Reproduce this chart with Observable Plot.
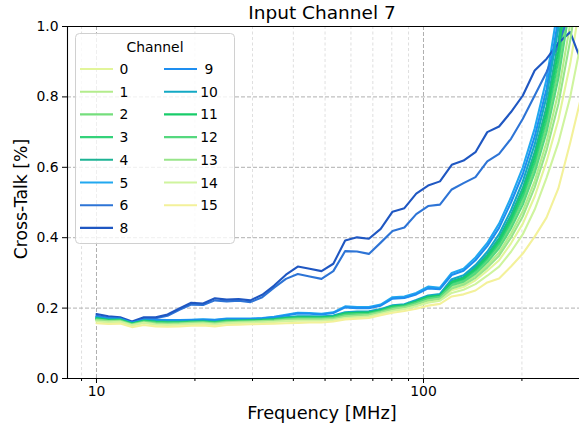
<!DOCTYPE html>
<html><head><meta charset="utf-8">
<script src="https://cdn.jsdelivr.net/npm/d3@7"></script>
<script src="https://cdn.jsdelivr.net/npm/@observablehq/plot@0.6"></script>
<style>body{margin:0;background:#fff}</style>
</head><body><div id="chart"></div>
<script>
// Frequencies [MHz]
const freqs = [10.00, 10.87, 11.81, 12.84, 13.96, 15.17, 16.49, 17.93, 19.48, 21.18, 23.02, 25.02, 27.20, 29.56, 32.14, 34.93, 37.97, 41.27, 44.86, 48.76, 53.00, 57.61, 62.62, 68.07, 73.99, 80.42, 87.42, 95.02, 103.3, 112.3, 122.0, 132.6, 144.2, 156.7, 170.3, 185.2, 201.3, 218.8, 237.8, 258.5, 281.0, 305.4];

const channels = ["0","1","2","3","4","5","6","8","9","10","11","12","13","14","15"];
const colors = ["#e2f59a","#b3ec8c","#74de7c","#34d27a","#1db394","#21a8f0","#2d74d6","#1f57c2","#1e8ef0","#13a9c4","#18cc6a","#55d87e","#98e58a","#cff49e","#f3f19a"];

// Cross-talk [%] per channel
const ch0 = [0.164,0.162,0.162,0.152,0.159,0.155,0.154,0.155,0.157,0.158,0.155,0.159,0.160,0.160,0.162,0.163,0.165,0.167,0.167,0.166,0.169,0.175,0.177,0.179,0.187,0.195,0.200,0.209,0.219,0.225,0.251,0.260,0.279,0.306,0.336,0.384,0.440,0.517,0.616,0.735,0.894,1.096];
const ch1 = [0.167,0.164,0.164,0.154,0.161,0.157,0.156,0.157,0.159,0.160,0.157,0.161,0.162,0.162,0.164,0.165,0.168,0.170,0.170,0.169,0.172,0.179,0.181,0.183,0.190,0.199,0.203,0.213,0.224,0.229,0.260,0.270,0.292,0.322,0.358,0.412,0.476,0.561,0.671,0.813,1.007,1.247];
const ch2 = [0.169,0.165,0.165,0.155,0.162,0.159,0.158,0.159,0.160,0.161,0.159,0.163,0.163,0.163,0.165,0.167,0.170,0.172,0.172,0.172,0.174,0.182,0.184,0.186,0.192,0.202,0.206,0.217,0.228,0.233,0.268,0.278,0.303,0.336,0.377,0.436,0.506,0.598,0.717,0.878,1.101,1.373];
const ch3 = [0.170,0.166,0.166,0.155,0.163,0.160,0.159,0.159,0.161,0.162,0.159,0.163,0.164,0.164,0.166,0.167,0.171,0.173,0.173,0.173,0.175,0.184,0.186,0.187,0.193,0.204,0.207,0.218,0.230,0.235,0.271,0.282,0.307,0.341,0.384,0.445,0.518,0.613,0.736,0.904,1.138,1.424];
const ch4 = [0.172,0.167,0.167,0.156,0.164,0.162,0.161,0.161,0.162,0.163,0.161,0.165,0.165,0.165,0.167,0.169,0.173,0.175,0.175,0.175,0.177,0.186,0.188,0.189,0.195,0.206,0.209,0.221,0.233,0.238,0.277,0.288,0.316,0.352,0.399,0.464,0.542,0.643,0.772,0.956,1.214,1.524];
const ch5 = [0.176,0.171,0.171,0.160,0.168,0.167,0.166,0.166,0.167,0.168,0.167,0.170,0.170,0.170,0.172,0.175,0.181,0.187,0.186,0.184,0.188,0.205,0.203,0.203,0.210,0.231,0.233,0.243,0.261,0.258,0.300,0.312,0.344,0.385,0.440,0.515,0.600,0.710,0.850,1.060,1.350,1.700];
const ch6 = [0.178,0.172,0.170,0.158,0.171,0.171,0.178,0.195,0.210,0.209,0.222,0.219,0.221,0.217,0.231,0.258,0.283,0.297,0.290,0.283,0.305,0.362,0.361,0.354,0.386,0.419,0.429,0.467,0.490,0.494,0.537,0.555,0.572,0.617,0.638,0.681,0.738,0.804,0.870,0.952,1.040,1.150];
const ch8 = [0.183,0.177,0.174,0.162,0.174,0.174,0.182,0.199,0.215,0.213,0.228,0.224,0.226,0.222,0.238,0.264,0.295,0.318,0.312,0.305,0.326,0.392,0.401,0.397,0.425,0.474,0.484,0.525,0.548,0.560,0.607,0.619,0.643,0.700,0.716,0.757,0.804,0.875,0.908,0.953,0.984,0.895];
const ch9 = [0.175,0.170,0.170,0.159,0.167,0.166,0.165,0.165,0.166,0.167,0.166,0.169,0.169,0.169,0.171,0.174,0.179,0.185,0.184,0.182,0.186,0.202,0.200,0.200,0.207,0.227,0.229,0.239,0.256,0.254,0.294,0.306,0.336,0.376,0.428,0.500,0.581,0.687,0.822,1.021,1.295,1.627];
const ch10 = [0.173,0.168,0.168,0.157,0.165,0.163,0.162,0.162,0.163,0.164,0.162,0.166,0.166,0.166,0.168,0.170,0.174,0.177,0.177,0.176,0.179,0.188,0.190,0.191,0.197,0.208,0.211,0.223,0.236,0.240,0.282,0.293,0.322,0.360,0.410,0.478,0.560,0.665,0.800,0.995,1.270,1.600];
const ch11 = [0.171,0.166,0.167,0.156,0.164,0.161,0.160,0.160,0.161,0.162,0.160,0.164,0.164,0.165,0.166,0.168,0.172,0.174,0.174,0.174,0.176,0.185,0.187,0.188,0.194,0.205,0.208,0.219,0.232,0.236,0.274,0.285,0.311,0.346,0.392,0.454,0.530,0.628,0.754,0.930,1.176,1.474];
const ch12 = [0.168,0.164,0.165,0.154,0.162,0.159,0.158,0.158,0.159,0.160,0.158,0.162,0.162,0.163,0.164,0.166,0.169,0.171,0.171,0.171,0.173,0.181,0.183,0.184,0.191,0.201,0.205,0.215,0.227,0.232,0.265,0.275,0.298,0.330,0.370,0.426,0.494,0.584,0.699,0.852,1.063,1.323];
const ch13 = [0.166,0.163,0.163,0.153,0.160,0.156,0.155,0.156,0.158,0.159,0.156,0.160,0.161,0.161,0.163,0.164,0.167,0.168,0.168,0.168,0.170,0.177,0.179,0.181,0.188,0.197,0.202,0.211,0.222,0.227,0.256,0.266,0.286,0.315,0.349,0.400,0.461,0.543,0.648,0.780,0.960,1.184];
const ch14 = [0.162,0.160,0.161,0.151,0.158,0.153,0.152,0.153,0.155,0.156,0.153,0.157,0.158,0.159,0.160,0.161,0.163,0.164,0.164,0.164,0.166,0.172,0.174,0.176,0.184,0.192,0.197,0.205,0.215,0.221,0.243,0.252,0.268,0.292,0.318,0.360,0.410,0.480,0.570,0.670,0.800,0.970];
const ch15 = [0.157,0.155,0.156,0.146,0.152,0.148,0.147,0.148,0.150,0.151,0.148,0.152,0.153,0.154,0.155,0.156,0.157,0.158,0.159,0.159,0.162,0.168,0.170,0.172,0.180,0.187,0.192,0.198,0.207,0.212,0.233,0.239,0.250,0.273,0.284,0.318,0.355,0.403,0.457,0.540,0.670,0.810];

const series = [ch0,ch1,ch2,ch3,ch4,ch5,ch6,ch8,ch9,ch10,ch11,ch12,ch13,ch14,ch15];
const yTicks = [0, 0.2, 0.4, 0.6, 0.8, 1.0];
const xMajor = [10, 100];
const xMinor = [9, 20, 30, 40, 50, 60, 70, 80, 90, 200];
const xDomain = [8.153, 300];

const data = [];
series.forEach((vals, i) => vals.forEach((v, k) => data.push({ch: channels[i], f: freqs[k], v})));

const FONT = "DejaVu Sans, sans-serif";
const plot = Plot.plot({
  width: 579, height: 430,
  marginLeft: 67, marginRight: 0, marginTop: 26, marginBottom: 52,
  style: {fontFamily: FONT, fontSize: "13.9px", background: "white", color: "black"},
  x: {type: "log", domain: xDomain},
  y: {domain: [0, 1]},
  color: {domain: channels, range: colors},
  marks: [
    Plot.gridX(xMinor, {stroke: "#b0b0b0", strokeOpacity: 0.45, strokeDasharray: "3,2.5", strokeWidth: 0.9}),
    Plot.gridX(xMajor, {stroke: "#b0b0b0", strokeOpacity: 1, strokeDasharray: "4,2", strokeWidth: 1}),
    Plot.gridY([0.2, 0.4, 0.6, 0.8], {stroke: "#b0b0b0", strokeOpacity: 1, strokeDasharray: "4,2", strokeWidth: 1}),
    Plot.line(data, {x: "f", y: "v", z: "ch", stroke: "ch", strokeWidth: 2.1, clip: true}),
    Plot.ruleY([0], {stroke: "black", strokeWidth: 1.1}),
    Plot.ruleY([1], {stroke: "black", strokeWidth: 1.1}),
    Plot.ruleX([xDomain[0]], {stroke: "black", strokeWidth: 1.1}),
    Plot.axisY(yTicks, {tickFormat: d3.format(".1f"), tickSize: 5, tickPadding: 4, fontSize: 13.9, label: null}),
    Plot.axisX(xMajor, {tickFormat: d => String(d), tickSize: 5, tickPadding: 3, fontSize: 13.9, label: null}),
    Plot.axisX(xMinor, {tickFormat: () => "", tickSize: 3, label: null})
  ]
});

const svg = d3.select(plot);
svg.append("text").attr("x", 322).attr("y", 19).attr("text-anchor", "middle")
  .attr("font-family", FONT).attr("font-size", 18.5).attr("fill", "black").text("Input Channel 7");
svg.append("text").attr("x", 322).attr("y", 419).attr("text-anchor", "middle")
  .attr("font-family", FONT).attr("font-size", 17.8).attr("fill", "black").text("Frequency [MHz]");
svg.append("text").attr("transform", "translate(27,199) rotate(-90)").attr("text-anchor", "middle")
  .attr("font-family", FONT).attr("font-size", 17.3).attr("fill", "black").text("Cross-Talk [%]");

// Legend
const lg = svg.append("g");
lg.append("rect").attr("x", 75.5).attr("y", 33.5).attr("width", 159).attr("height", 210).attr("rx", 4)
  .attr("fill", "white").attr("fill-opacity", 0.8).attr("stroke", "#d0d0d0");
lg.append("text").attr("x", 155).attr("y", 52).attr("text-anchor", "middle")
  .attr("font-family", FONT).attr("font-size", 13.9).attr("fill", "black").text("Channel");
channels.forEach((c, i) => {
  const col = i < 8 ? 0 : 1;
  const row = i < 8 ? i : i - 8;
  const y = 69 + row * 22.7;
  const x0 = col ? 164 : 80;
  lg.append("line").attr("x1", x0).attr("x2", x0 + 33).attr("y1", y).attr("y2", y)
    .attr("stroke", colors[i]).attr("stroke-width", 2.1);
  lg.append("text").attr("x", col ? 209 : 124).attr("y", y + 5)
    .attr("font-family", FONT).attr("font-size", 13.9).attr("fill", "black").text(c);
});

document.getElementById("chart").appendChild(plot);
</script>
</body></html>
